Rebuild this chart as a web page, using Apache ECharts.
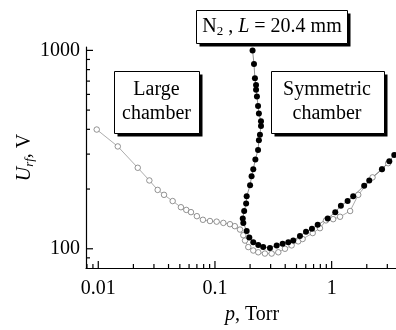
<!DOCTYPE html>
<html>
<head>
<meta charset="utf-8">
<script src="https://cdn.jsdelivr.net/npm/echarts@6/dist/echarts.min.js"></script>
<style>
html,body{margin:0;padding:0;background:#fff;}
#chart{width:396px;height:330px;}
</style>
</head>
<body>
<div id="chart"></div>
<script>
// large chamber (open circles)
var largeP = [0.0097, 0.0147, 0.0218, 0.0274, 0.0323, 0.0366, 0.0434, 0.0511, 0.0568, 0.0623, 0.07, 0.0789, 0.0906,
  0.1034, 0.118, 0.1345, 0.148, 0.164, 0.175, 0.181, 0.193, 0.213, 0.235, 0.268, 0.306, 0.349, 0.398, 0.454,
  0.517, 0.564, 0.688, 0.794, 0.894, 1.03, 1.18, 1.44, 1.69, 2.24, 2.7, 3.05];
var largeU = [399, 328, 256, 221, 198, 187, 174, 162, 157, 153, 146, 140, 138,
  137, 135, 133, 130, 125, 117, 110, 102, 98, 96, 94.6, 94.6, 96, 100, 104,
  109, 112, 120, 127, 139, 141, 145, 155, 187, 229, 252, 270];

// symmetric chamber (filled dots)
var symP = [0.21, 0.216, 0.22, 0.225, 0.225, 0.229, 0.234, 0.238, 0.248, 0.248, 0.243, 0.238, 0.234, 0.222,
  0.213, 0.206, 0.2, 0.187, 0.185, 0.178, 0.173, 0.175, 0.187, 0.197, 0.213, 0.235, 0.259, 0.296, 0.338,
  0.38, 0.425, 0.469, 0.535, 0.603, 0.678, 0.759, 0.925, 1.074, 1.2, 1.37, 1.53, 1.9, 2.1, 2.7, 3.12, 3.44];
var symU = [1000, 853, 723, 669, 633, 586, 525, 480, 439, 416, 376, 352, 315, 282,
  252, 232, 209, 184, 169, 155, 142, 135, 123, 114, 108, 104.5, 102, 101, 104,
  106, 108, 110, 116, 122, 126, 132, 142, 153, 165, 174, 184, 208, 221, 252, 276, 297];

// axis ticks
var xMajor = [0.01, 0.1, 1];
var xMinor = [0.008, 0.009, 0.02, 0.03, 0.04, 0.05, 0.06, 0.07, 0.08, 0.09,
  0.2, 0.3, 0.4, 0.5, 0.6, 0.7, 0.8, 0.9, 2, 3];
var yMajor = [100, 1000];
var yMinor = [90, 200, 300, 400, 500, 600, 700, 800, 900];

function zip(a, b) {
  var out = [];
  for (var i = 0; i < a.length; i++) out.push([a[i], b[i]]);
  return out;
}

var serif = 'Liberation Serif';
var xMin = 0.00785, xMax = 3.56, yMin = 80, yMax = 1040;

// tick marks drawn inward through the axis scales
function tickSeries(values, onX, len) {
  return {
    type: 'custom', silent: true, clip: false, z: 5,
    data: values.map(function (v) { return onX ? [v, yMin] : [xMin, v]; }),
    renderItem: function (params, api) {
      var p = api.coord([api.value(0), api.value(1)]);
      return {
        type: 'line',
        shape: onX ? {x1: p[0], y1: p[1], x2: p[0], y2: p[1] - len}
                   : {x1: p[0], y1: p[1], x2: p[0] + len, y2: p[1]},
        style: {stroke: '#000', lineWidth: 1.2}
      };
    }
  };
}

function box(x, y, w, h) {
  return [{
    type: 'rect', left: x + 3.5, top: y + 3.5, z: 10,
    shape: {width: w, height: h},
    style: {fill: '#000'}
  }, {
    type: 'rect', left: x, top: y, z: 11,
    shape: {width: w, height: h},
    style: {fill: '#fff', stroke: '#000', lineWidth: 1}
  }];
}

var chart = echarts.init(document.getElementById('chart'));
var option = {
  animation: false,
  grid: {left: 86, right: 0, top: 47, bottom: 53},
  xAxis: {
    type: 'log', logBase: 10, min: xMin, max: xMax,
    axisLine: {onZero: false, lineStyle: {color: '#000', width: 1.2}},
    axisTick: {show: false},
    axisLabel: {customValues: xMajor, color: '#000', fontFamily: serif, fontSize: 20, margin: 11,
      formatter: function (v) { return String(Number(v.toPrecision(2))); }},
    splitLine: {show: false},
    name: '{i|p}{n|, Torr}',
    nameLocation: 'middle', nameGap: 37, nameMoveOverlap: false,
    nameTextStyle: {padding: [0, 0, 0, 22], rich: {
      i: {fontFamily: serif, fontStyle: 'italic', fontSize: 20, color: '#000'},
      n: {fontFamily: serif, fontSize: 20, color: '#000'}
    }}
  },
  yAxis: {
    type: 'log', logBase: 10, min: yMin, max: yMax,
    axisLine: {show: true, onZero: false, lineStyle: {color: '#000', width: 1.2}},
    axisTick: {show: false},
    axisLabel: {customValues: yMajor, color: '#000', fontFamily: serif, fontSize: 20, margin: 6,
      formatter: function (v) { return String(Math.round(v)); }},
    splitLine: {show: false},
    name: '{i|U}{s|rf}{n|, V}',
    nameLocation: 'middle', nameGap: 50, nameMoveOverlap: false,
    nameTextStyle: {rich: {
      i: {fontFamily: serif, fontStyle: 'italic', fontSize: 20, color: '#000'},
      s: {fontFamily: serif, fontStyle: 'italic', fontSize: 13, color: '#000', padding: [10, 0, 0, 0]},
      n: {fontFamily: serif, fontSize: 20, color: '#000'}
    }}
  },
  series: [{
    name: 'Large chamber', type: 'line',
    data: zip(largeP, largeU),
    symbol: 'circle', symbolSize: 5.5,
    itemStyle: {color: '#fff', borderColor: '#777', borderWidth: 0.8},
    lineStyle: {color: '#888', width: 0.7}
  }, {
    name: 'Symmetric chamber', type: 'line',
    data: zip(symP, symU),
    symbol: 'circle', symbolSize: 6,
    itemStyle: {color: '#000', borderWidth: 0},
    lineStyle: {color: '#444', width: 0.6}
  },
    tickSeries(xMajor, true, 7),
    tickSeries(xMinor, true, 4),
    tickSeries(yMajor, false, 7),
    tickSeries(yMinor, false, 4)
  ],
  graphic: [].concat(
    box(114, 71, 85, 62),
    [{
      type: 'text', x: 156.5, y: 102, z: 12,
      style: {text: 'Large\nchamber', fill: '#000', font: '20px "Liberation Serif"', align: 'center', verticalAlign: 'middle', lineHeight: 24}
    }],
    box(271, 71, 113, 62),
    [{
      type: 'text', x: 327, y: 102, z: 12,
      style: {text: 'Symmetric\nchamber', fill: '#000', font: '20px "Liberation Serif"', align: 'center', verticalAlign: 'middle', lineHeight: 24}
    }],
    box(196, 10, 151, 33),
    [{
      type: 'text', x: 272, y: 27, z: 12,
      style: {
        text: '{n|N}{s|2}{n| , }{i|L}{n| = 20.4 mm}',
        align: 'center', verticalAlign: 'middle',
        rich: {
          n: {fontFamily: serif, fontSize: 20, fill: '#000'},
          s: {fontFamily: serif, fontSize: 13, fill: '#000', padding: [10, 0, 0, 0]},
          i: {fontFamily: serif, fontStyle: 'italic', fontSize: 20, fill: '#000'}
        }
      }
    }]
  )
};
chart.setOption(option);
</script>
</body>
</html>
